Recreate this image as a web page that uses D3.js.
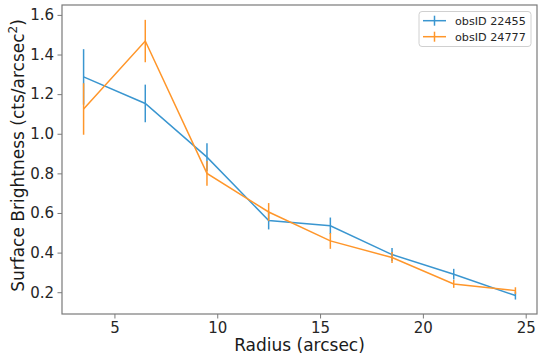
<!DOCTYPE html>
<html>
<head>
<meta charset="utf-8">
<script src="https://cdn.jsdelivr.net/npm/d3@7"></script>
<style>
  html, body { margin: 0; padding: 0; background: #fff; }
  svg { display: block; font-family: "DejaVu Sans", sans-serif; }
</style>
</head>
<body>
<svg id="chart" width="550" height="357"></svg>
<script>
// ---- data ----
const radius = [3.5, 6.5, 9.5, 12.5, 15.5, 18.5, 21.5, 24.5];
const seriesNames = ["obsID 22455", "obsID 24777"];
const values22455 = [1.287, 1.153, 0.882, 0.562, 0.535, 0.390, 0.291, 0.183];
const errors22455 = [0.140, 0.095, 0.070, 0.045, 0.042, 0.033, 0.027, 0.020];
const values24777 = [1.125, 1.468, 0.800, 0.605, 0.459, 0.375, 0.242, 0.208];
const errors24777 = [0.130, 0.107, 0.063, 0.045, 0.040, 0.028, 0.020, 0.017];
const xTicks = [5, 10, 15, 20, 25];
const yTicks = [0.2, 0.4, 0.6, 0.8, 1.0, 1.2, 1.4, 1.6];
const colors = ["#3a96d0", "#ff962a"];

const series = [
  { name: seriesNames[0], values: values22455, errors: errors22455, color: colors[0] },
  { name: seriesNames[1], values: values24777, errors: errors24777, color: colors[1] }
];

const svg = d3.select("#chart");
const L = 62, R = 537, T = 5, B = 314;

const x = d3.scaleLinear().domain([2.45, 25.55]).range([L, R]);
const y = d3.scaleLinear().domain([0.09, 1.65]).range([B, T]);

// series
series.forEach(s => {
  const g = svg.append("g");
  const pts = radius.map((r, i) => ({ r, v: s.values[i], e: s.errors[i] }));
  g.selectAll("line.err").data(pts).enter().append("line")
    .attr("x1", d => x(d.r)).attr("x2", d => x(d.r))
    .attr("y1", d => y(d.v - d.e)).attr("y2", d => y(d.v + d.e))
    .attr("stroke", s.color).attr("stroke-width", 1.5);
  g.append("path")
    .attr("d", d3.line().x(d => x(d.r)).y(d => y(d.v))(pts))
    .attr("fill", "none").attr("stroke", s.color).attr("stroke-width", 1.5);
});

// axes
const axisColor = "#7a7a7a";
const xAxis = svg.append("g").attr("transform", `translate(0,${B})`)
  .call(d3.axisBottom(x).tickValues(xTicks).tickSize(4.5).tickPadding(3.5).tickFormat(d3.format("d")));
const yAxis = svg.append("g").attr("transform", `translate(${L},0)`)
  .call(d3.axisLeft(y).tickValues(yTicks).tickSize(4.5).tickPadding(3.5).tickFormat(d3.format(".1f")));
[xAxis, yAxis].forEach(a => {
  a.select(".domain").remove();
  a.selectAll(".tick line").attr("stroke", axisColor).attr("stroke-width", 1);
  a.selectAll(".tick text").attr("fill", "#262626").style("font-size", "15px")
    .style("font-family", "DejaVu Sans, sans-serif");
});

// frame
svg.append("rect").attr("x", L).attr("y", T).attr("width", R - L).attr("height", B - T)
  .attr("fill", "none").attr("stroke", axisColor).attr("stroke-width", 1.2);

// axis labels
svg.append("text").attr("x", (L + R) / 2).attr("y", 351)
  .attr("text-anchor", "middle").attr("fill", "#1a1a1a").style("font-size", "17px")
  .text("Radius (arcsec)");

const yl = svg.append("text")
  .attr("transform", `translate(24,${(T + B) / 2 - 4}) rotate(-90)`)
  .attr("text-anchor", "middle").attr("fill", "#1a1a1a").style("font-size", "17px");
yl.append("tspan").text("Surface Brightness (cts/arcsec");
yl.append("tspan").attr("dy", -7).style("font-size", "12px").text("2");
yl.append("tspan").attr("dy", 7).text(")");

// legend
const lg = svg.append("g");
lg.append("rect").attr("x", 419).attr("y", 11.5).attr("width", 112).attr("height", 35).attr("rx", 3)
  .attr("fill", "#fff").attr("fill-opacity", 0.8).attr("stroke", "#d0d0d0").attr("stroke-width", 1);
series.forEach((s, i) => {
  const cy = 20.7 + i * 16;
  lg.append("line").attr("x1", 423).attr("x2", 446).attr("y1", cy).attr("y2", cy)
    .attr("stroke", s.color).attr("stroke-width", 1.5);
  lg.append("line").attr("x1", 434.5).attr("x2", 434.5).attr("y1", cy - 5).attr("y2", cy + 5)
    .attr("stroke", s.color).attr("stroke-width", 1.5);
  lg.append("text").attr("x", 455).attr("y", cy).attr("dy", "0.36em")
    .attr("fill", "#262626").style("font-size", "11.2px").text(s.name);
});
</script>
</body>
</html>
